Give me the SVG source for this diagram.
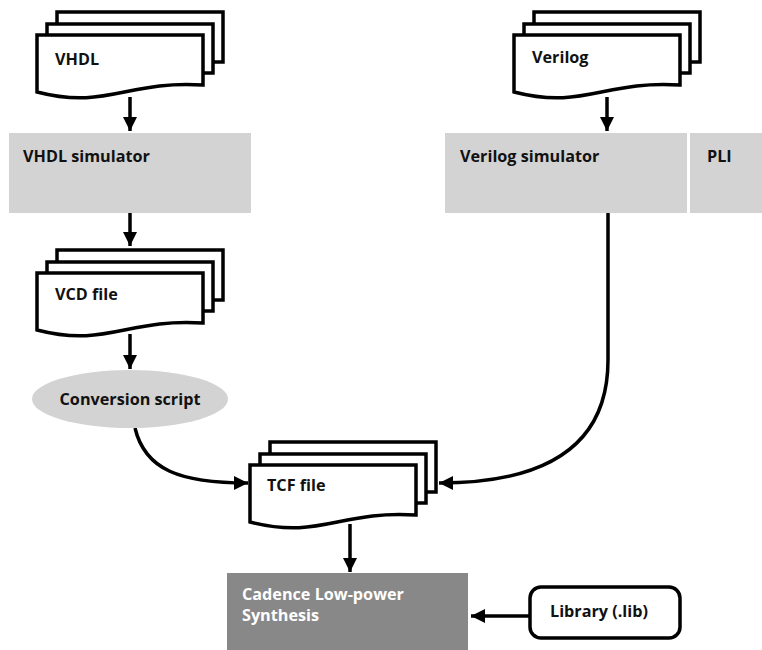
<svg xmlns="http://www.w3.org/2000/svg" xmlns:xlink="http://www.w3.org/1999/xlink" width="762" height="650" viewBox="0 0 762 650">
  <style>
    .lbl { font-family: "Open Sans", "Liberation Sans", sans-serif; font-weight: bold; font-size: 16.2px; fill: #111; }
    .lbl-w { font-family: "Open Sans", "Liberation Sans", sans-serif; font-weight: bold; font-size: 16.2px; fill: #fff; }
    .page { fill: #fff; stroke: #000; stroke-width: 3.5; stroke-linejoin: miter; }
    .sim { fill: #d3d3d3; }
    .wire { fill: none; stroke: #000; stroke-width: 3.5; }
  </style>
  <defs>
    <marker id="arrow" viewBox="0 0 10 10" refX="10" refY="5" markerWidth="4" markerHeight="4" markerUnits="strokeWidth" orient="auto">
      <path d="M0,0 L10,5 L0,10 Z" fill="#000"/>
    </marker>
    <!-- stacked document symbol: two sheets behind a front sheet with a wavy lower edge -->
    <g id="docstack">
      <rect class="page" x="20" y="-23" width="166" height="50"/>
      <rect class="page" x="10" y="-11" width="166" height="49"/>
      <path class="page" d="M0,0 H166 V50 C90,45 70,75 0,57 Z"/>
    </g>
  </defs>

  <!-- connectors -->
  <g id="connectors">
    <line class="wire" x1="130" y1="97" x2="130" y2="131" marker-end="url(#arrow)"/>
    <line class="wire" x1="130" y1="213" x2="130" y2="246" marker-end="url(#arrow)"/>
    <line class="wire" x1="130" y1="334" x2="130" y2="369" marker-end="url(#arrow)"/>
    <line class="wire" x1="607" y1="97" x2="607" y2="131" marker-end="url(#arrow)"/>
    <path class="wire" d="M135,428 C145,470 180,483 248,483" marker-end="url(#arrow)"/>
    <path class="wire" d="M608,213 V360 C608,450 540,483 439,483" marker-end="url(#arrow)"/>
    <line class="wire" x1="350" y1="524" x2="350" y2="572" marker-end="url(#arrow)"/>
    <line class="wire" x1="530" y1="616" x2="471" y2="616" marker-end="url(#arrow)"/>
  </g>

  <g id="vhdl">
    <use xlink:href="#docstack" x="37" y="35"/>
    <text class="lbl" x="55" y="65">VHDL</text>
  </g>

  <g id="vhdl-simulator">
    <rect class="sim" x="9" y="133" width="242" height="80"/>
    <text class="lbl" x="23" y="162">VHDL simulator</text>
  </g>

  <g id="vcd-file">
    <use xlink:href="#docstack" x="37" y="273"/>
    <text class="lbl" x="55" y="300">VCD file</text>
  </g>

  <g id="conversion-script">
    <ellipse cx="130" cy="399" rx="98" ry="29" fill="#d3d3d3"/>
    <text class="lbl" x="130" y="405" text-anchor="middle">Conversion script</text>
  </g>

  <g id="verilog">
    <use xlink:href="#docstack" x="514" y="35"/>
    <text class="lbl" x="532" y="63">Verilog</text>
  </g>

  <g id="verilog-simulator">
    <rect class="sim" x="445" y="133" width="242" height="80"/>
    <text class="lbl" x="460" y="162">Verilog simulator</text>
  </g>

  <g id="pli">
    <rect class="sim" x="690" y="133" width="72" height="80"/>
    <text class="lbl" x="707" y="162">PLI</text>
  </g>

  <g id="tcf-file">
    <use xlink:href="#docstack" x="250" y="465"/>
    <text class="lbl" x="267" y="491">TCF file</text>
  </g>

  <g id="cadence-synthesis">
    <rect x="227" y="573" width="241" height="77" fill="#888888"/>
    <text class="lbl-w" x="242" y="600">Cadence Low-power</text>
    <text class="lbl-w" x="242" y="621">Synthesis</text>
  </g>

  <g id="library">
    <rect x="530" y="587" width="150" height="51" rx="11" ry="11" fill="#fff" stroke="#000" stroke-width="3.5"/>
    <text class="lbl" x="550" y="617">Library (.lib)</text>
  </g>
</svg>
